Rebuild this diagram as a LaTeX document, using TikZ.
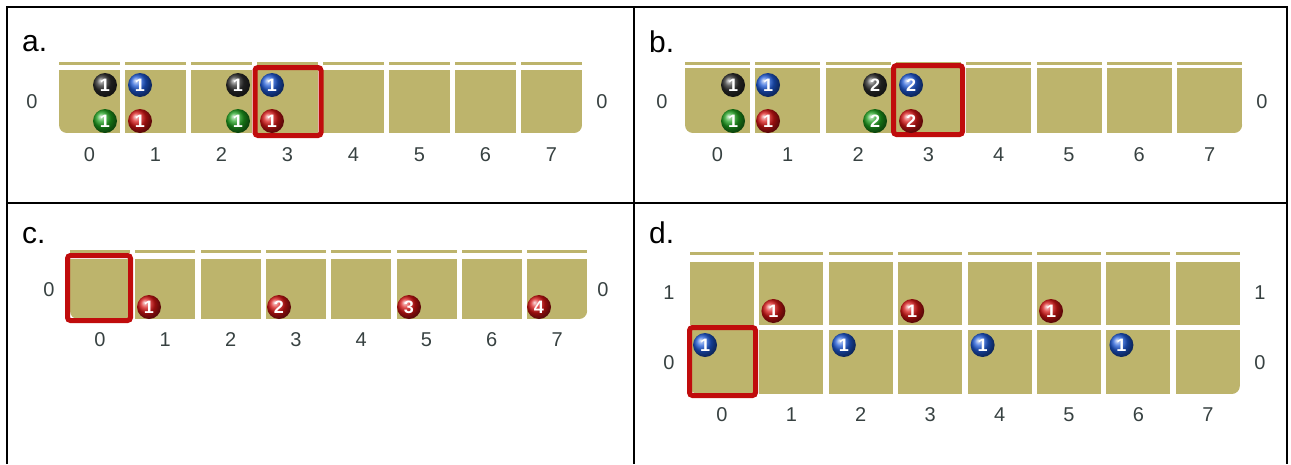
\documentclass[tikz,border=0pt]{standalone}
\usepackage{fontspec}
\setmainfont{Liberation Sans}
\definecolor{board}{RGB}{189,180,108}
\definecolor{boxred}{RGB}{192,12,12}
\definecolor{lbl}{RGB}{55,65,65}
\definecolor{bblue}{RGB}{30,90,215}
\definecolor{bred}{RGB}{215,20,20}
\definecolor{bgreen}{RGB}{30,160,30}
\definecolor{bblack}{RGB}{45,45,45}
\tikzset{
  selbox/.style={draw=boxred, line width=5, rounded corners=3},
  ball/.style={circle, minimum size=24, inner sep=0, shading=ball, ball color=#1,
    text=white, font=\fontsize{18}{18}\selectfont\bfseries},
  axislabel/.style={text=lbl, font=\fontsize{20}{20}\selectfont, inner sep=0},
  panellabel/.style={font=\fontsize{30}{30}\selectfont, inner sep=0, anchor=base west},
  frame/.style={line width=2, draw=black},
}
% row of 8 cells: x0, pitch, width, top, bottom
\newcommand\cellrow[5]{%
  \foreach \i in {0,...,7}{%
    \pgfmathsetmacro\l{#1+#2*\i}\pgfmathsetmacro\r{\l+#3}%
    \fill[board] (\l,#4) rectangle (\r,#5);}}
% rounded bottom-left / bottom-right corners: l/r, bottom
\newcommand\roundBL[2]{\fill[white] (#1,#2) rectangle (#1+8,#2-8); \fill[board] (#1+8,#2-8) circle (8);}
\newcommand\roundBR[2]{\fill[white] (#1-8,#2-8) rectangle (#1,#2); \fill[board] (#1-8,#2-8) circle (8);}
\begin{document}
\begin{tikzpicture}[x=1pt,y=-1pt]
\useasboundingbox (0,0) rectangle (1291,464);
% frame
\draw[frame] (7,464) -- (7,7) -- (1287,7) -- (1287,464);
\draw[frame] (7,203) -- (1287,203);
\draw[frame] (634,7) -- (634,464);

% ---------------- panel a
\node[panellabel] (a-lab) at (22,51) {a.};
\cellrow{59}{66}{61}{62}{65}
\cellrow{59}{66}{61}{70}{133}
\roundBL{59}{133}
\roundBR{582}{133}
\draw[selbox] (255,67.5) rectangle (321,135.5);
\node[axislabel] (a-y0l) at (32,102) {0};
\node[axislabel] (a-y0r) at (602,102) {0};
\foreach \i in {0,...,7}{\node[axislabel] (a-x\i) at (59+66*\i+30.5,155) {\i};}
\node[ball=bblack] (a-k0) at (105,85) {1};
\node[ball=bgreen] (a-g0) at (105,121) {1};
\node[ball=bblue]  (a-b1) at (140,85) {1};
\node[ball=bred]   (a-r1) at (140,121) {1};
\node[ball=bblack] (a-k2) at (238,85) {1};
\node[ball=bgreen] (a-g2) at (238,121) {1};
\node[ball=bblue]  (a-b3) at (272,85) {1};
\node[ball=bred]   (a-r3) at (272,121) {1};

% ---------------- panel b
\node[panellabel] (b-lab) at (649,52) {b.};
\cellrow{685}{70.3}{65}{62}{65}
\cellrow{685}{70.3}{65}{68}{133}
\roundBL{685}{133}
\roundBR{1242.1}{133}
\draw[selbox] (893.5,65.5) rectangle (962.5,134.5);
\node[axislabel] (b-y0l) at (662,102) {0};
\node[axislabel] (b-y0r) at (1262,102) {0};
\foreach \i in {0,...,7}{\node[axislabel] (b-x\i) at (685+70.3*\i+32.5,155) {\i};}
\node[ball=bblack] (b-k0) at (733,85) {1};
\node[ball=bgreen] (b-g0) at (733,121) {1};
\node[ball=bblue]  (b-b1) at (768,85) {1};
\node[ball=bred]   (b-r1) at (768,121) {1};
\node[ball=bblack] (b-k2) at (875,85) {2};
\node[ball=bgreen] (b-g2) at (875,121) {2};
\node[ball=bblue]  (b-b3) at (911,85) {2};
\node[ball=bred]   (b-r3) at (911,121) {2};

% ---------------- panel c
\node[panellabel] (c-lab) at (22,243) {c.};
\cellrow{70}{65.3}{60}{250}{253}
\cellrow{70}{65.3}{60}{259}{319}
\roundBL{70}{319}
\roundBR{587.1}{319}
\draw[selbox] (67.5,255.5) rectangle (130.5,320.5);
\node[axislabel] (c-y0l) at (49,290) {0};
\node[axislabel] (c-y0r) at (603,290) {0};
\foreach \i in {0,...,7}{\node[axislabel] (c-x\i) at (70+65.3*\i+30,340) {\i};}
\node[ball=bred] (c-r1) at (149,307) {1};
\node[ball=bred] (c-r3) at (279,307) {2};
\node[ball=bred] (c-r5) at (409,307) {3};
\node[ball=bred] (c-r7) at (539,307) {4};

% ---------------- panel d
\node[panellabel] (d-lab) at (649,243) {d.};
\cellrow{690}{69.4}{64}{252}{255}
\cellrow{690}{69.4}{64}{262}{325}
\cellrow{690}{69.4}{64}{330}{394}
\roundBL{690}{394}
\roundBR{1239.8}{394}
\draw[selbox] (689.5,327.5) rectangle (755.5,395.5);
\node[axislabel] (d-y1l) at (669,293) {1};
\node[axislabel] (d-y0l) at (669,363) {0};
\node[axislabel] (d-y1r) at (1260,293) {1};
\node[axislabel] (d-y0r) at (1260,363) {0};
\foreach \i in {0,...,7}{\node[axislabel] (d-x\i) at (690+69.4*\i+32,415) {\i};}
\foreach \i in {1,3,5}{\node[ball=bred] (d-r\i) at (690+69.4*\i+14,311) {1};}
\foreach \i in {0,2,4,6}{\node[ball=bblue] (d-b\i) at (690+69.4*\i+15,345) {1};}
\end{tikzpicture}
\end{document}
